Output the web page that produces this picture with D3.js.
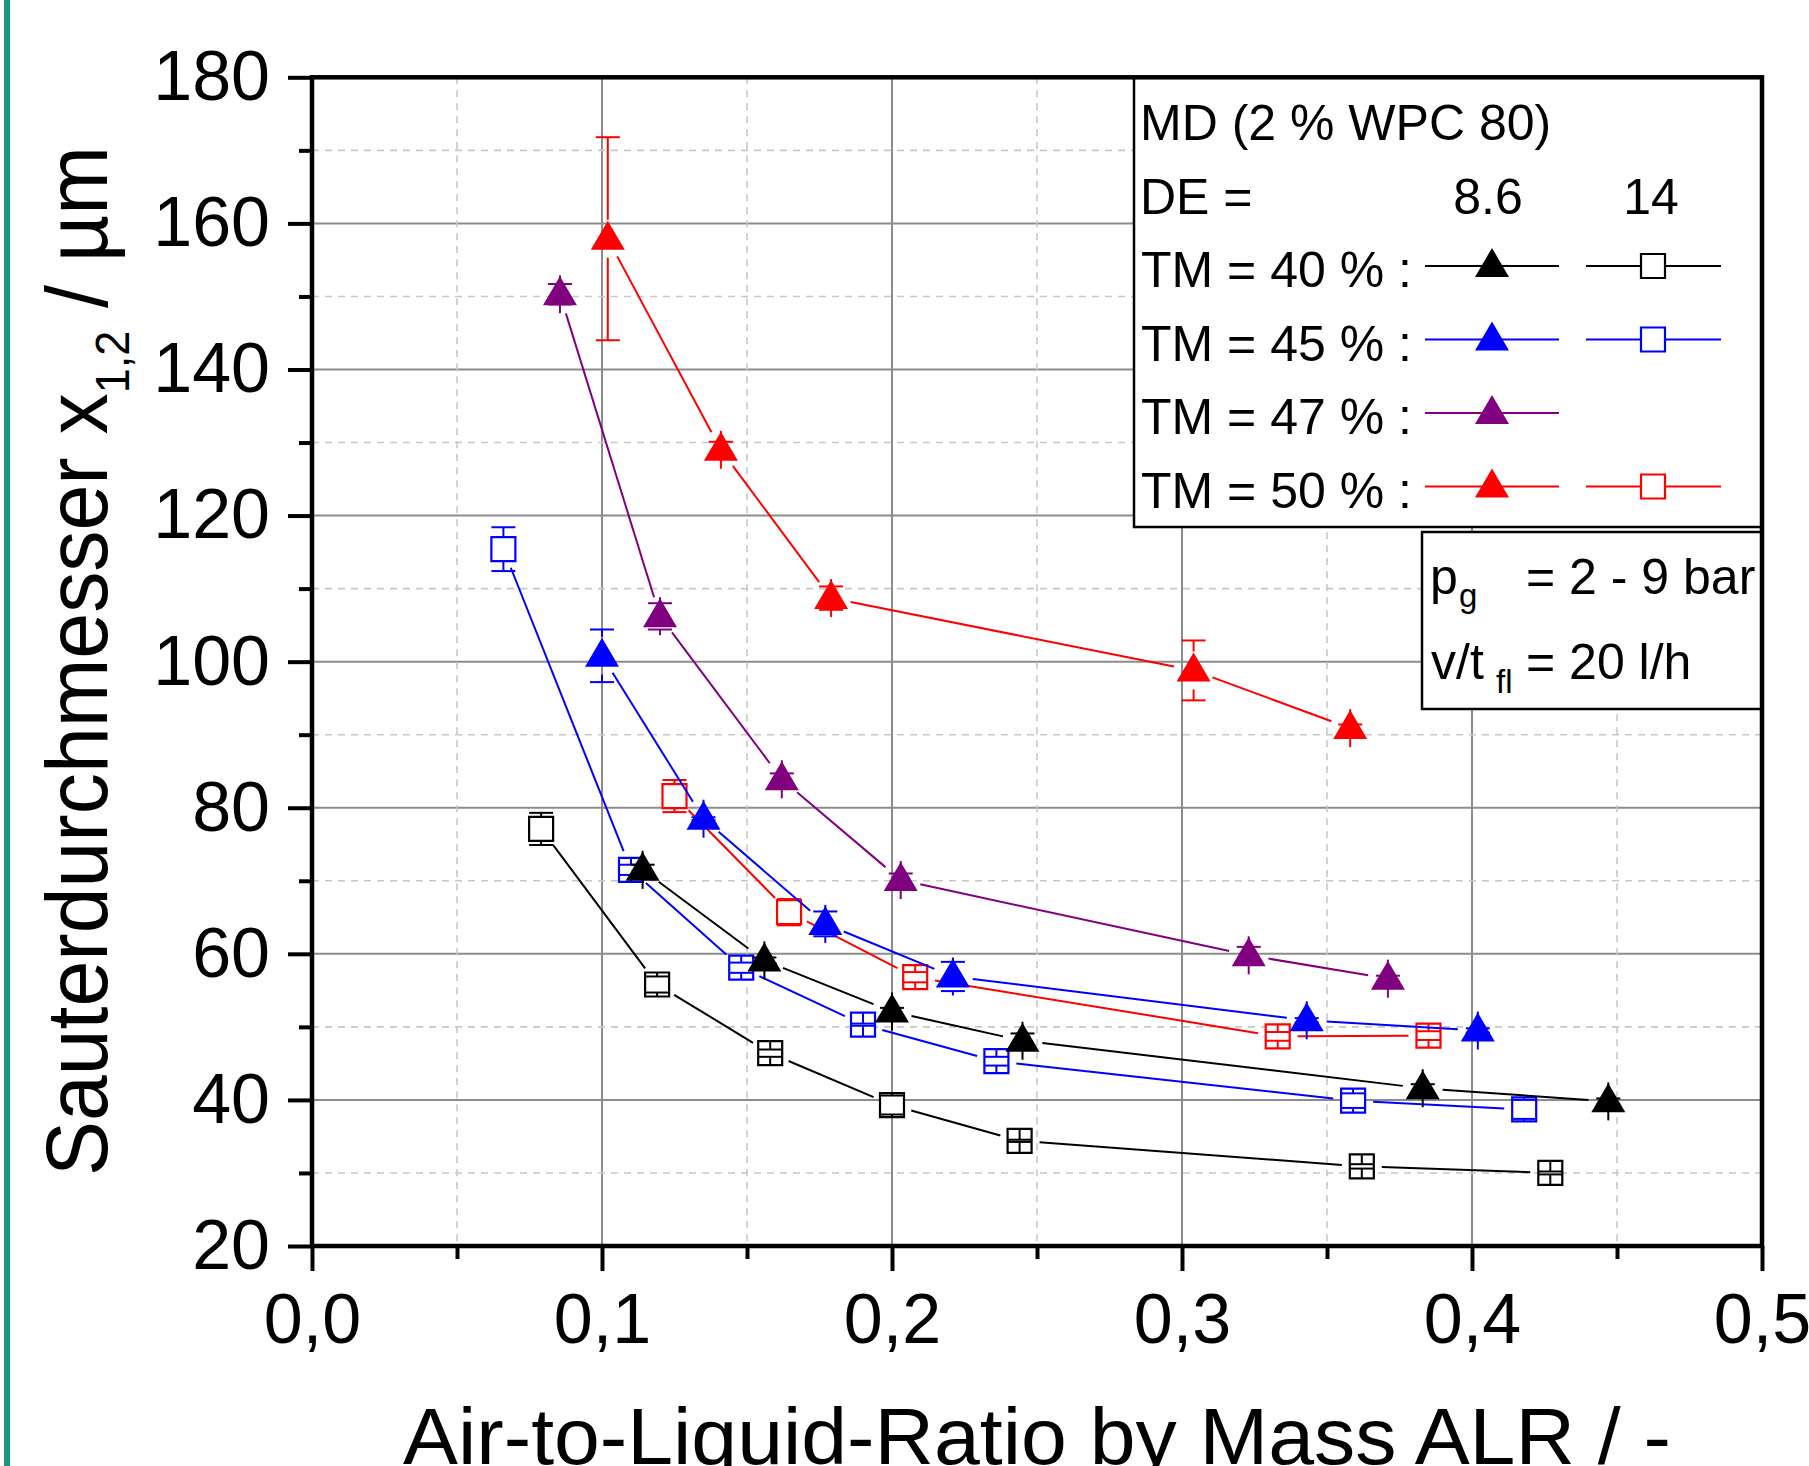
<!DOCTYPE html>
<html>
<head>
<meta charset="utf-8">
<script src="https://cdn.jsdelivr.net/npm/d3@7"></script>
<style>
  body { margin: 0; background: #fff; }
  svg { display: block; font-family: "Liberation Sans", Arial, Helvetica, sans-serif; }
</style>
</head>
<body>
<div class="canvas"></div>
<script>
// ---- data ----
const xTicks = [0, 0.1, 0.2, 0.3, 0.4, 0.5];
const xTickLabels = ["0,0", "0,1", "0,2", "0,3", "0,4", "0,5"];
const xMinor = [0.05, 0.15, 0.25, 0.35, 0.45];
const yTicks = [20, 40, 60, 80, 100, 120, 140, 160, 180];
const yMinor = [30, 50, 70, 90, 110, 130, 150, 170];

// TM = 40 %
const tm40de86X = [0.114, 0.156, 0.200, 0.245, 0.383, 0.447];
const tm40de86Y = [71.5, 59.1, 52.1, 48.1, 41.6, 39.8];
const tm40de86E = [0.7, 0.4, 0.5, 1.0, 0.55, 0.4];
const tm40de14X = [0.079, 0.119, 0.158, 0.200, 0.244, 0.362, 0.427];
const tm40de14Y = [77.1, 55.8, 46.4, 39.3, 34.4, 30.9, 30.0];
const tm40de14E = [2.2, 1.1, 0.5, 1.3, 0.15, 0.3, 0.2];
// TM = 45 %
const tm45de86X = [0.100, 0.135, 0.177, 0.221, 0.343, 0.402];
const tm45de86Y = [100.8, 78.5, 64.1, 56.9, 50.9, 49.5];
const tm45de86E = [3.6, 0.2, 1.7, 2.0, 0.3, 0.3];
const tm45de14X = [0.066, 0.110, 0.148, 0.190, 0.236, 0.359, 0.418];
const tm45de14Y = [115.4, 71.5, 58.1, 50.3, 45.3, 39.9, 38.7];
const tm45de14E = [3.0, 0.7, 0.7, 0.15, 0.6, 1.0, 1.3];
// TM = 47 %
const tm47de86X = [0.0855, 0.120, 0.162, 0.203, 0.323, 0.371];
const tm47de86Y = [150.3, 106.2, 83.9, 70.1, 59.8, 56.6];
const tm47de86E = [1.4, 1.8, 0.8, 0.9, 1.15, 0.4];
// TM = 50 %
const tm50de86X = [0.102, 0.141, 0.179, 0.304, 0.358];
const tm50de86Y = [157.9, 129.0, 108.7, 98.8, 90.9];
const tm50de86E = [13.9, 1.1, 1.6, 4.1, 0.5];
const tm50de14X = [0.125, 0.1645, 0.208, 0.333, 0.385];
const tm50de14Y = [81.6, 65.7, 56.8, 48.7, 48.8];
const tm50de14E = [2.2, 1.8, 0.7, 0.6, 0.6];

const legendTitle = "MD (2 % WPC 80)";
const legendDE = ["DE =", "8.6", "14"];
const legendRows = ["TM = 40 % :", "TM = 45 % :", "TM = 47 % :", "TM = 50 % :"];

const BLACK = "#000000", BLUE = "#0000ff", PURPLE = "#800080", RED = "#ff0000";

const zip = (xs, ys, es) => xs.map((x, i) => ({ x: x, y: ys[i], e: es[i] }));

// drawing order: last one ends on top
const series = [
  { pts: zip(tm50de14X, tm50de14Y, tm50de14E), color: RED, shape: "sq" },
  { pts: zip(tm50de86X, tm50de86Y, tm50de86E), color: RED, shape: "tri" },
  { pts: zip(tm47de86X, tm47de86Y, tm47de86E), color: PURPLE, shape: "tri" },
  { pts: zip(tm45de14X, tm45de14Y, tm45de14E), color: BLUE, shape: "sq" },
  { pts: zip(tm45de86X, tm45de86Y, tm45de86E), color: BLUE, shape: "tri" },
  { pts: zip(tm40de14X, tm40de14Y, tm40de14E), color: BLACK, shape: "sq" },
  { pts: zip(tm40de86X, tm40de86Y, tm40de86E), color: BLACK, shape: "tri" }
];

const legendSamples = [
  { tri: BLACK, sq: BLACK },
  { tri: BLUE, sq: BLUE },
  { tri: PURPLE, sq: null },
  { tri: RED, sq: RED }
];

// ---- layout ----
const W = 1809, H = 1466;
const x0 = 312, x1 = 1762, yTop = 77.3, yBot = 1246;

const x = d3.scaleLinear().domain([0, 0.5]).range([x0, x1]);
const y = d3.scaleLinear().domain([20, 180]).range([yBot, yTop]);

const svg = d3.select(".canvas").append("svg")
  .attr("width", W)
  .attr("height", H);

// teal strip on the left border
svg.append("rect")
  .attr("x", 4).attr("y", 0)
  .attr("width", 6).attr("height", H)
  .attr("fill", "#1a9682");

// ---- grid ----
const grid = svg.append("g");
grid.selectAll(".gx").data(xTicks.slice(1, -1)).join("line")
  .attr("x1", d => x(d)).attr("x2", d => x(d))
  .attr("y1", yTop).attr("y2", yBot)
  .attr("stroke", "#8c8c8c").attr("stroke-width", 2);
grid.selectAll(".gy").data(yTicks.slice(1, -1)).join("line")
  .attr("x1", x0).attr("x2", x1)
  .attr("y1", d => y(d)).attr("y2", d => y(d))
  .attr("stroke", "#8c8c8c").attr("stroke-width", 2);
grid.selectAll(".mx").data(xMinor).join("line")
  .attr("x1", d => x(d)).attr("x2", d => x(d))
  .attr("y1", yTop).attr("y2", yBot)
  .attr("stroke", "#c8c8c8").attr("stroke-width", 1.6)
  .attr("stroke-dasharray", "7,6");
grid.selectAll(".my").data(yMinor).join("line")
  .attr("x1", x0).attr("x2", x1)
  .attr("y1", d => y(d)).attr("y2", d => y(d))
  .attr("stroke", "#c8c8c8").attr("stroke-width", 1.6)
  .attr("stroke-dasharray", "7,6");

// ---- legend boxes (white, over the grid) ----
svg.append("rect")
  .attr("x", 1134).attr("y", yTop)
  .attr("width", x1 - 1134).attr("height", 527 - yTop)
  .attr("fill", "#fff").attr("stroke", "#000").attr("stroke-width", 2.5);
svg.append("rect")
  .attr("x", 1422).attr("y", 532)
  .attr("width", x1 - 1422).attr("height", 177)
  .attr("fill", "#fff").attr("stroke", "#000").attr("stroke-width", 2.5);

// ---- symbols ----
const triType = {
  draw(ctx) {
    ctx.moveTo(0, -18);
    ctx.lineTo(17, 11);
    ctx.lineTo(-17, 11);
    ctx.closePath();
  }
};
const triPath = d3.symbol().type(triType)();
const sqPath = d3.symbol().type(d3.symbolSquare).size(24 * 24)();
const HALF = { tri: 19, sq: 12 };
const GAP = 20;

function drawMarker(g, cx, cy, shape, color) {
  if (shape === "tri") {
    g.append("path").attr("d", triPath)
      .attr("transform", `translate(${cx},${cy})`)
      .attr("fill", color);
  } else {
    g.append("path").attr("d", sqPath)
      .attr("transform", `translate(${cx},${cy})`)
      .attr("fill", "#fff").attr("stroke", color).attr("stroke-width", 2.2);
  }
}

series.forEach(s => {
  const g = svg.append("g");
  const p = s.pts.map(d => ({ px: x(d.x), py: y(d.y), pe: y(d.y - d.e) - y(d.y) }));

  // connecting line with a gap around each symbol
  for (let i = 0; i < p.length - 1; i++) {
    const dx = p[i + 1].px - p[i].px, dy = p[i + 1].py - p[i].py;
    const len = Math.hypot(dx, dy);
    if (len <= 2 * GAP) continue;
    const ux = dx / len, uy = dy / len;
    g.append("line")
      .attr("x1", p[i].px + ux * GAP).attr("y1", p[i].py + uy * GAP)
      .attr("x2", p[i + 1].px - ux * GAP).attr("y2", p[i + 1].py - uy * GAP)
      .attr("stroke", s.color).attr("stroke-width", 2);
  }

  p.forEach(d => drawMarker(g, d.px, d.py, s.shape, s.color));

  // error bars: stem runs from the symbol edge to the cap
  const h = HALF[s.shape];
  p.forEach(d => {
    [-1, 1].forEach(sg => {
      g.append("line")
        .attr("x1", d.px).attr("x2", d.px)
        .attr("y1", d.py + sg * h).attr("y2", d.py + sg * d.pe)
        .attr("stroke", s.color).attr("stroke-width", 2);
      g.append("line")
        .attr("x1", d.px - 12).attr("x2", d.px + 12)
        .attr("y1", d.py + sg * d.pe).attr("y2", d.py + sg * d.pe)
        .attr("stroke", s.color).attr("stroke-width", 2);
    });
  });
});

// ---- frame and axes ----
svg.append("rect")
  .attr("x", x0).attr("y", yTop)
  .attr("width", x1 - x0).attr("height", yBot - yTop)
  .attr("fill", "none").attr("stroke", "#000").attr("stroke-width", 4.5);

function styleAxis(g) {
  g.select(".domain").remove();
  g.selectAll(".tick line").attr("stroke", "#000").attr("stroke-width", 4);
  g.selectAll(".tick text").attr("fill", "#000")
    .style("font-size", "70px")
    .style("font-family", '"Liberation Sans", Arial, Helvetica, sans-serif');
}

svg.append("g")
  .attr("transform", `translate(${x0},0)`)
  .call(d3.axisLeft(y).tickValues(yTicks).tickSize(24).tickPadding(18).tickFormat(d => d))
  .call(styleAxis);
svg.append("g")
  .attr("transform", `translate(${x0},0)`)
  .call(d3.axisLeft(y).tickValues(yMinor).tickSize(13).tickFormat(""))
  .call(styleAxis);
svg.append("g")
  .attr("transform", `translate(0,${yBot})`)
  .call(d3.axisBottom(x).tickValues(xTicks).tickSize(25).tickPadding(22)
    .tickFormat((d, i) => xTickLabels[i]))
  .call(styleAxis);
svg.append("g")
  .attr("transform", `translate(0,${yBot})`)
  .call(d3.axisBottom(x).tickValues(xMinor).tickSize(13).tickFormat(""))
  .call(styleAxis);

// ---- axis titles ----
const yt = svg.append("text")
  .attr("text-anchor", "middle")
  .attr("fill", "#000")
  .style("font-size", "88px");
yt.append("tspan").text("Sauterdurchmesser x");
yt.append("tspan").attr("dy", 22).style("font-size", "48px").text("1,2");
yt.append("tspan").attr("dy", -22).text(" / µm");
const ytLen = yt.node().getComputedTextLength();
yt.attr("transform", `translate(107,661) rotate(-90) scale(${1030 / ytLen},1)`);

const xt = svg.append("text")
  .attr("text-anchor", "middle")
  .attr("fill", "#000")
  .style("font-size", "80px")
  .text("Air-to-Liquid-Ratio by Mass ALR / -");
const xtLen = xt.node().getComputedTextLength();
xt.attr("transform", `translate(${(x0 + x1) / 2},1464) scale(${1268 / xtLen},1)`);

// ---- legend ----
const lg = svg.append("g").style("font-size", "50px").attr("fill", "#000");
const rowY = [140, 213.5, 287, 360.5, 434, 507.5];
lg.append("text").attr("x", 1140).attr("y", rowY[0]).text(legendTitle);
lg.append("text").attr("x", 1140).attr("y", rowY[1]).text(legendDE[0]);
lg.append("text").attr("x", 1488).attr("y", rowY[1]).attr("text-anchor", "middle").text(legendDE[1]);
lg.append("text").attr("x", 1651).attr("y", rowY[1]).attr("text-anchor", "middle").text(legendDE[2]);

legendRows.forEach((label, i) => {
  const by = rowY[i + 2];
  const ly = by - 21;
  lg.append("text").attr("x", 1141).attr("y", by).text(label);
  const smp = legendSamples[i];
  lg.append("line").attr("x1", 1425).attr("x2", 1559).attr("y1", ly).attr("y2", ly)
    .attr("stroke", smp.tri).attr("stroke-width", 2);
  drawMarker(lg, 1492, ly, "tri", smp.tri);
  if (smp.sq) {
    lg.append("line").attr("x1", 1586).attr("x2", 1721).attr("y1", ly).attr("y2", ly)
      .attr("stroke", smp.sq).attr("stroke-width", 2);
    drawMarker(lg, 1653, ly, "sq", smp.sq);
  }
});

// condition box
const cb = svg.append("g").attr("fill", "#000");
cb.append("text").attr("x", 1430).attr("y", 594).style("font-size", "50px").text("p");
cb.append("text").attr("x", 1459).attr("y", 607).style("font-size", "33px").text("g");
cb.append("text").attr("x", 1526).attr("y", 594).style("font-size", "50px").text("= 2 - 9 bar");
cb.append("text").attr("x", 1431).attr("y", 679).style("font-size", "50px").text("v/t");
cb.append("text").attr("x", 1496).attr("y", 693).style("font-size", "33px").text("fl");
cb.append("text").attr("x", 1526).attr("y", 679).style("font-size", "50px").text("= 20 l/h");
</script>
</body>
</html>
